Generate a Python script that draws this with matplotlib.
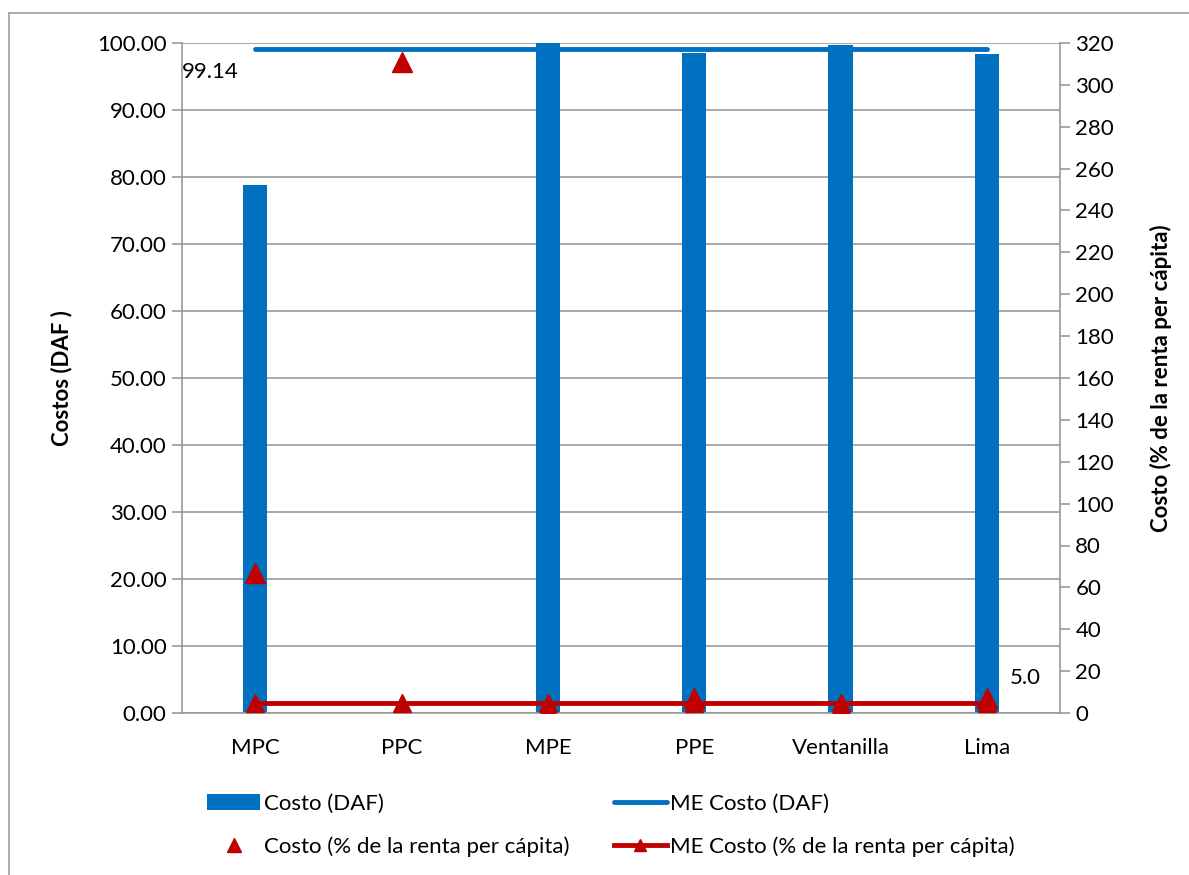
import matplotlib.pyplot as plt
import numpy as np
from matplotlib.lines import Line2D

plt.rcParams["font.family"] = ["Lato", "DejaVu Sans"]

categories = ["MPC", "PPC", "MPE", "PPE", "Ventanilla", "Lima"]
costo_daf = [78.8, 0.0, 100.0, 98.5, 99.7, 98.4]
me_costo_daf = 99.14
costo_pct = [67, 311, 1.5, 7, 3, 7]
me_costo_pct = 5.0

BLUE = "#0070C0"
RED = "#C00000"
GRID = "#999999"
FS = 16

W, H = 1189, 875
fig = plt.figure(figsize=(W / 100, H / 100), dpi=100)
ax = fig.add_axes([182 / W, 1 - 713 / H, (1060 - 182) / W, (713 - 43) / H])
ax2 = ax.twinx()

x = np.arange(len(categories))
bars = ax.bar(x, costo_daf, width=0.165, color=BLUE, zorder=2, label="Costo (DAF)")
me_daf, = ax.plot([x[0], x[-1]], [me_costo_daf] * 2, color=BLUE, lw=3.5,
                  solid_capstyle="round", zorder=3, label="ME Costo (DAF)")
ax.text(-0.5, me_costo_daf - 2.0, f"{me_costo_daf:.2f}", fontsize=FS,
        ha="left", va="top")

ax.set_xlim(-0.5, len(categories) - 0.5)
ax.set_ylim(0, 100)
ax.set_yticks(np.arange(0, 101, 10))
ax.set_yticklabels([f"{v:.2f}" for v in np.arange(0, 101, 10)])
ax.set_xticks(x)
ax.set_xticklabels(categories)
ax.yaxis.grid(True, color=GRID, lw=1.2, zorder=0)
ax.set_axisbelow(True)
ax.tick_params(axis="y", labelsize=FS, length=7, color=GRID, width=1.2, pad=4)
ax.tick_params(axis="x", labelsize=FS, length=0, pad=18)
ax.set_ylabel("Costos (DAF )", fontsize=FS, fontweight="bold", labelpad=18)

me_pct, = ax2.plot(x, [me_costo_pct] * len(x), color=RED, lw=3.5, marker="^",
                   ms=13, zorder=3, label="ME Costo (% de la renta per cápita)")
pts, = ax2.plot(x, costo_pct, ls="none", marker="^", ms=15, color=RED, zorder=4,
                label="Costo (% de la renta per cápita)")
ax2.text(5.16, me_costo_pct + 7, f"{me_costo_pct:.1f}",
         fontsize=FS, ha="left", va="bottom")
ax2.set_ylim(0, 320)
ax2.set_yticks(np.arange(0, 321, 20))
ax2.tick_params(axis="y", labelsize=FS, length=7, color=GRID, width=1.2, pad=4)
ax2.set_ylabel("Costo (% de la renta per cápita)", fontsize=FS,
               fontweight="bold", labelpad=26)

for a in (ax, ax2):
    a.spines["top"].set_visible(False)
    for side in ("left", "right", "bottom"):
        a.spines[side].set_color(GRID)
        a.spines[side].set_linewidth(1.2)
ax.spines["right"].set_visible(False)
ax2.spines["left"].set_visible(False)
ax2.spines["bottom"].set_visible(False)

# legend fills column by column
handles = [bars, pts, me_daf, me_pct]
labels = [h.get_label() for h in handles]
fig.legend(handles, labels, ncol=2, loc="upper left",
           bbox_to_anchor=(187 / W, 1 - 774 / H), frameon=False,
           fontsize=FS, handlelength=2.4, handletextpad=0.15,
           labelspacing=1.0, columnspacing=2.0, markerscale=0.65)

# chart-area border (only left and top edges fall inside the image)
fig.add_artist(Line2D([9 / W, 9 / W], [0, 1 - 13 / H], transform=fig.transFigure,
                      color="#A0A0A0", lw=1.2))
fig.add_artist(Line2D([9 / W, 1], [1 - 13 / H, 1 - 13 / H], transform=fig.transFigure,
                      color="#A0A0A0", lw=1.2))

fig.savefig("out.png", dpi=100)
